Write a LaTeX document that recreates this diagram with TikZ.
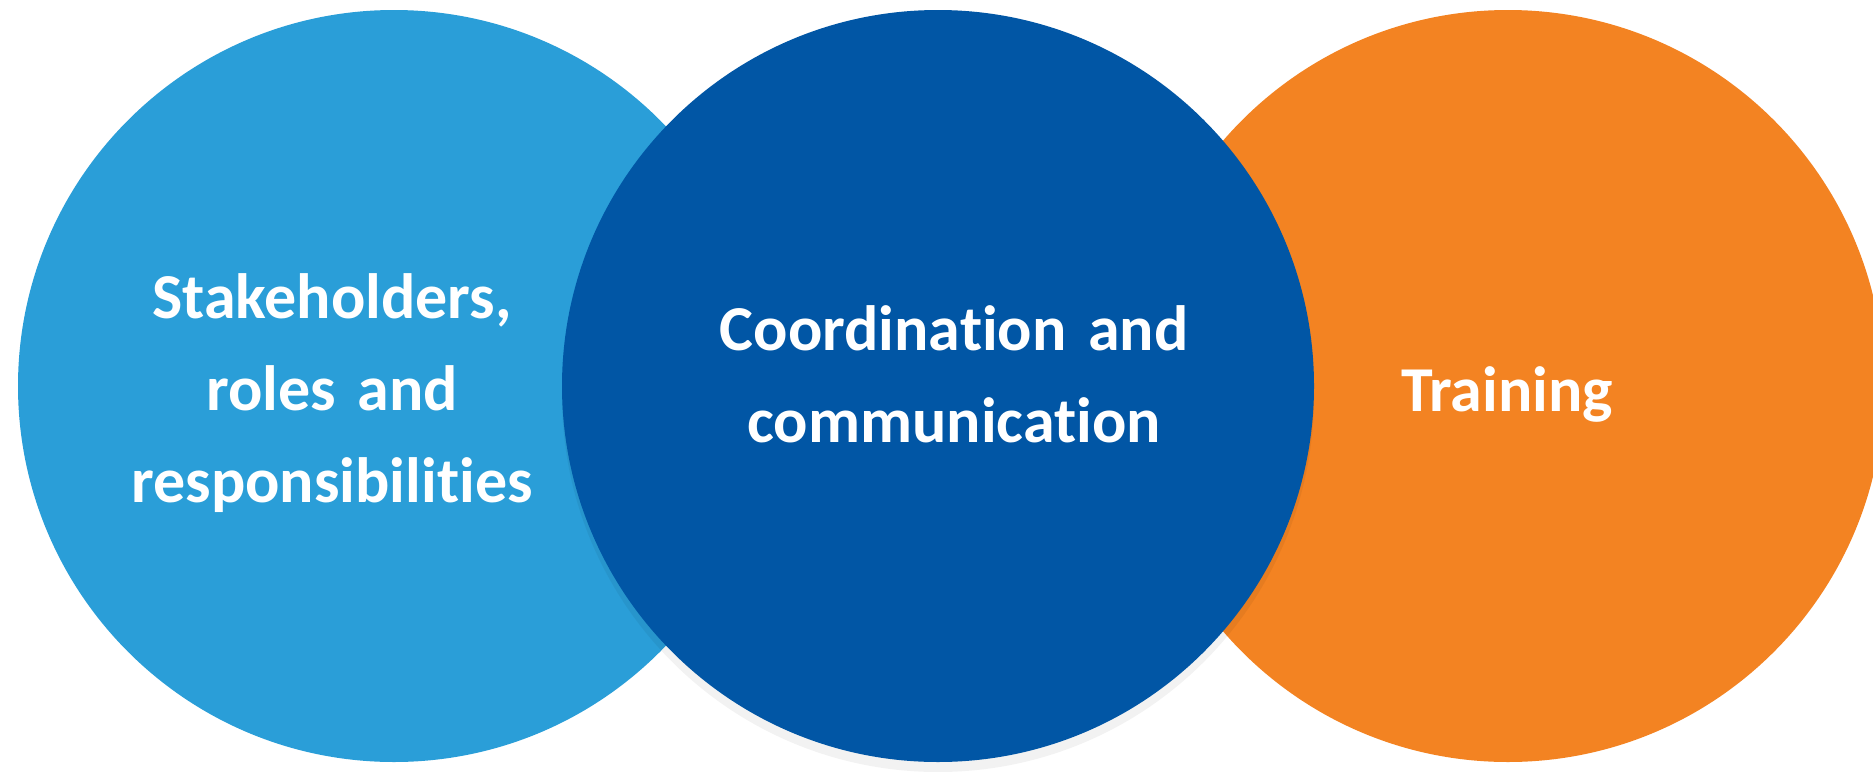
\documentclass[tikz,border=0pt]{standalone}
\usepackage{fontspec}
\setmainfont{Carlito}[Ligatures={NoCommon}]

\definecolor{skyblue}{RGB}{42,158,216}
\definecolor{navyblue}{RGB}{1,86,165}
\definecolor{tangerine}{RGB}{243,131,34}

\tikzset{
  disc/.style={circle,minimum size=752pt,inner sep=0pt},
  blurb/.style={text=white,text width=520pt,align=center,anchor=base,
    font=\fontsize{64}{92}\selectfont\bfseries}
}

\begin{document}
\begin{tikzpicture}[x=1pt,y=-1pt]
      \clip (0,0) rectangle (1873,771);
      % the three discs, middle one on top with a soft shadow
      \node[disc,fill=skyblue] (stake) at (394,386) {};
      \node[disc,fill=tangerine] (train) at (1508,386) {};
      \node[disc,fill=black,fill opacity=0.05] (shade) at (938,396) {};
      \node[disc,fill=navyblue] (coord) at (938,386) {};
      % texts
      \node[blurb] (stakeText) at (332,318) {Stakeholders,\\roles and\\responsibilities};
      \node[blurb] (coordText) at (954,350) {Coordination and\\communication};
      \node[blurb] (trainText) at (1507,411) {Training};
\end{tikzpicture}
\end{document}
